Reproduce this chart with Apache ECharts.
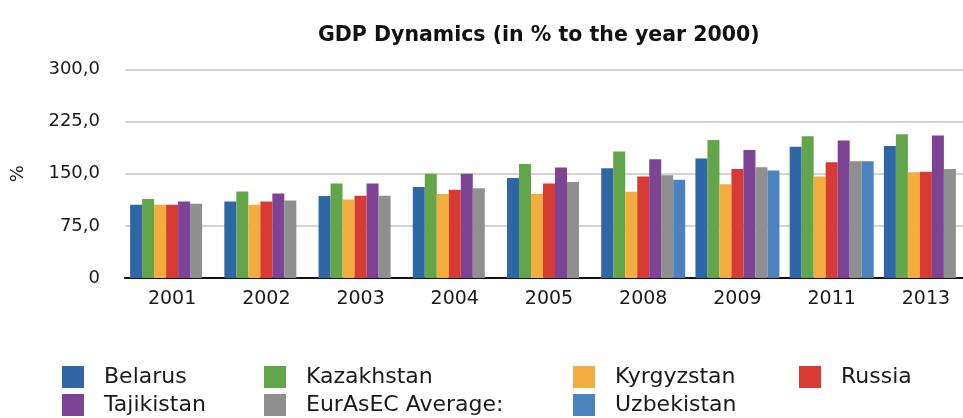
<!DOCTYPE html>
<html>
<head>
<meta charset="utf-8">
<script src="https://cdn.jsdelivr.net/npm/echarts@6/dist/echarts.min.js"></script>
<style>
  html, body { margin: 0; padding: 0; background: #fff; }
  #chart { width: 963px; height: 418px; }
</style>
</head>
<body>
<div id="chart"></div>
<script>
// GDP index, % of the year 2000 level
const years = ['2001', '2002', '2003', '2004', '2005', '2008', '2009', '2011', '2013'];

const belarus    = [105.5, 110, 118, 131, 144, 158, 172, 189, 190];
const kazakhstan = [113.5, 124.5, 136, 150, 164, 182, 198.5, 204, 207];
const kyrgyzstan = [105.3, 105.3, 113, 121, 121, 124, 135, 146, 152];
const russia     = [105.3, 110, 118.5, 127, 136, 146, 157, 166.5, 153];
const tajikistan = [110, 121.5, 136, 150, 159, 171, 184, 198, 205];
const eurasecAvg = [106.7, 111.5, 118.5, 129, 138, 148, 159.5, 168, 157];
const uzbekistan = [null, null, null, null, null, 141.5, 154.5, 168, null];

const yTickLabels = ['0', '75,0', '150,0', '225,0', '300,0'];

const FONT = 'DejaVu Sans';

const seriesDefs = [
  { name: 'Belarus',          data: belarus,    color: '#2f66a6' },
  { name: 'Kazakhstan',       data: kazakhstan, color: '#63a54a' },
  { name: 'Kyrgyzstan',       data: kyrgyzstan, color: '#f2ad3e' },
  { name: 'Russia',           data: russia,     color: '#d73b33' },
  { name: 'Tajikistan',       data: tajikistan, color: '#7d4495' },
  { name: 'EurAsEC Average:', data: eurasecAvg, color: '#8f8f8f' },
  { name: 'Uzbekistan',       data: uzbekistan, color: '#4b83bf' }
];

// Legend grid: four columns, two rows
const legendColumns = [62, 264, 573, 799];
const legendRows = [366, 394];
const legendSlots = [
  ['Belarus', 0, 0], ['Kazakhstan', 1, 0], ['Kyrgyzstan', 2, 0], ['Russia', 3, 0],
  ['Tajikistan', 0, 1], ['EurAsEC Average:', 1, 1], ['Uzbekistan', 2, 1]
];

const chart = echarts.init(document.getElementById('chart'), null, { renderer: 'canvas' });
chart.setOption({
  animation: false,
  backgroundColor: '#fff',
  title: {
    text: 'GDP Dynamics (in % to the year 2000)',
    left: 313,
    top: 20,
    textStyle: { fontFamily: FONT, fontSize: 20.5, fontWeight: 'bold', color: '#111' }
  },
  legend: legendSlots.map(([name, c, r]) => ({
    left: legendColumns[c],
    top: legendRows[r],
    icon: 'rect',
    itemWidth: 22,
    itemHeight: 22,
    padding: 0,
    data: [name],
    selectedMode: false,
    textStyle: {
      fontFamily: FONT, fontSize: 22, lineHeight: 22, color: '#1a1a1a',
      padding: [0, 0, 0, 15]
    }
  })),
  grid: {
    left: 125, right: -10, top: 69.5, bottom: 140,
    containLabel: false, outerBoundsMode: 'none'
  },
  xAxis: {
    type: 'category',
    data: years,
    boundaryGap: true,
    axisLine: { show: true, lineStyle: { color: '#111', width: 2 } },
    axisTick: { show: false },
    axisLabel: { fontFamily: FONT, fontSize: 19, color: '#1a1a1a', margin: 12 }
  },
  yAxis: {
    type: 'value',
    min: 0,
    max: 300,
    interval: 75,
    name: '%',
    nameLocation: 'middle',
    nameGap: 98,
    nameRotate: 90,
    nameTextStyle: { fontFamily: FONT, fontSize: 18, color: '#1a1a1a' },
    axisLine: { show: false },
    axisTick: { show: false },
    axisLabel: {
      fontFamily: FONT, fontSize: 18, color: '#1a1a1a', margin: 25,
      formatter: (v) => yTickLabels[Math.round(v / 75)]
    },
    splitLine: { lineStyle: { color: '#c4c4c4', width: 1.5 } }
  },
  series: seriesDefs.map(s => ({
    name: s.name,
    type: 'bar',
    data: s.data,
    barWidth: 12,
    barGap: '0%',
    itemStyle: { color: s.color },
    emphasis: { disabled: true }
  }))
});
</script>
</body>
</html>
